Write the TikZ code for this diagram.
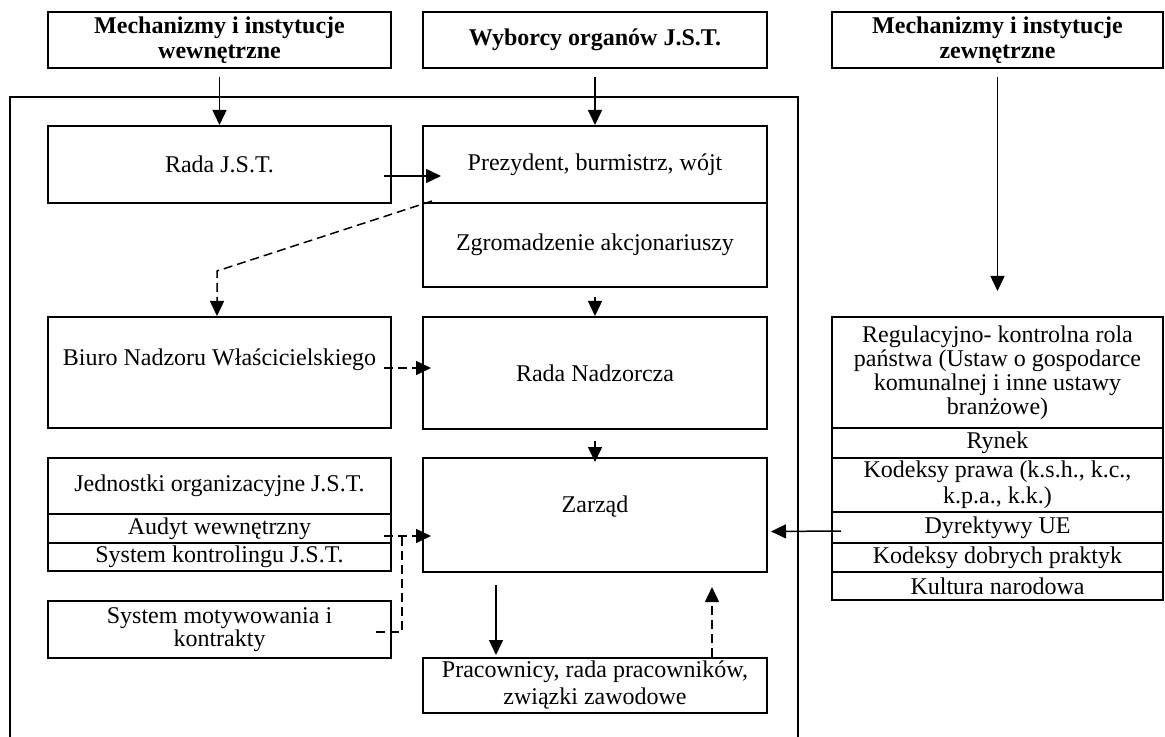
\documentclass[tikz,border=0pt]{standalone}
\usepackage{fontspec}
\setmainfont{Liberation Serif}
\usetikzlibrary{arrows.meta,calc}
\begin{document}
\begin{tikzpicture}[x=0.5pt,y=-0.5pt,
  box/.style={draw,line width=1pt,inner sep=0pt,align=center,font=\fontsize{12}{13.8}\selectfont},
  lcol/.style={box,minimum width=171.5pt},
  mcol/.style={box,minimum width=172pt},
  rcol/.style={box,minimum width=165.5pt},
  title/.style={font=\bfseries\fontsize{12}{12.5}\selectfont,minimum height=28pt},
  txt/.style={inner sep=0pt,align=center,font=\fontsize{12}{13.8}\selectfont},
  arr/.style={line width=0.75pt,-{Triangle[length=7.5pt,width=7pt]}},
  darr/.style={arr,dash pattern=on 4.5pt off 2.5pt},
  dline/.style={line width=0.75pt,dash pattern=on 4.5pt off 2.5pt},
  frame/.style={line width=1pt}]
\useasboundingbox (0,0) rectangle (1165,737);

% outer frame of the company (open at the bottom)
\draw[frame] (10,737) |- (798,97) -- (798,737);

% headings
\node[lcol, title] (tA) at (219.5,40) {Mechanizmy i instytucje\\wewnętrzne};
\node[mcol, title] (tB) at (595,40) {Wyborcy organów J.S.T.};
\node[rcol, title] (tC) at (997.5,40) {Mechanizmy i instytucje\\zewnętrzne};

% left column
\node[lcol, minimum height=38.5pt] (rada) at (219.5,164.5) {Rada J.S.T.};
\node[lcol, minimum height=55.5pt] (biuro) at (219.5,372.5) {};
\node[txt] (biuroT) at (219.5,360) {Biuro Nadzoru Właścicielskiego};
\node[lcol, minimum height=28pt] (jedn) at (219.5,486) {Jednostki organizacyjne J.S.T.};
\node[lcol, minimum height=14.5pt] (audyt) at (219.5,528.5) {Audyt wewnętrzny};
\node[lcol, minimum height=14pt] (kontr) at (219.5,557) {System kontrolingu J.S.T.};
\node[lcol, minimum height=28.5pt, font=\fontsize{12}{11.5}\selectfont] (motyw) at (219.5,629.5) {System motywowania i\\kontrakty};

% middle column
\node[mcol, minimum height=38.5pt] (prez) at (595,164.5) {Prezydent, burmistrz, wójt};
\node[mcol, minimum height=42pt] (zgrom) at (595,245) {Zgromadzenie akcjonariuszy};
\node[mcol, minimum height=56pt] (rn) at (595,373) {Rada Nadzorcza};
\node[mcol, minimum height=57pt] (zarzad) at (595,515) {};
\node[txt] (zarzadT) at (595,507) {Zarząd};
\node[mcol, minimum height=27.5pt, font=\fontsize{12}{13.5}\selectfont] (prac) at (595,685.5) {Pracownicy, rada pracowników,\\związki zawodowe};

% right column
\node[rcol, minimum height=55.5pt, font=\fontsize{12}{10.8}\selectfont] (reg) at (997.5,372.5) {Regulacyjno- kontrolna rola\\państwa (Ustaw o gospodarce\\komunalnej i inne ustawy\\branżowe)};
\node[rcol, minimum height=15pt] (rynek) at (997.5,443) {Rynek};
\node[rcol, minimum height=27pt, font=\fontsize{12}{13}\selectfont] (kodeksy) at (997.5,485) {Kodeksy prawa (k.s.h., k.c.,\\k.p.a., k.k.)};
\node[rcol, minimum height=15.5pt] (dyr) at (997.5,527.5) {Dyrektywy UE};
\node[rcol, minimum height=14.5pt] (dobre) at (997.5,557.5) {Kodeksy dobrych praktyk};
\node[rcol, minimum height=14pt] (kultura) at (997.5,586) {Kultura narodowa};

% connectors
\draw[arr, shorten <=4pt] (tA.south) -- (rada.north);
\draw[arr, shorten <=4pt] (tB.south) -- (prez.north);
\draw[arr, shorten <=4pt, shorten >=12.5pt] (tC.south) -- (reg.north);
\draw[arr] ($(rada.east)+(-8,11.5)$) -- ($(prez.west)+(19,11.5)$);
\draw[darr] ($(prez.south west)+(10,-3)$) -- ($(biuro.north)+(-2.5,-45)$) -- ($(biuro.north)+(-2.5,0)$);
\draw[arr, shorten <=4.5pt] (zgrom.south) -- (rn.north);
\draw[darr] ($(biuro.east)+(-8,-4.5)$) -- ($(rn.west)+(9,-5)$);
\draw[arr, shorten <=5.5pt, shorten >=-2.5pt] (rn.south) -- (zarzad.north);
\draw[darr] ($(audyt.east)+(-8,7.5)$) -- ($(zarzad.west)+(9,21)$);
\coordinate (jn) at ($(audyt.east)+(10,7.5)$);
\draw[dline] ($(motyw.east)+(-16,2.5)$) -| (jn);
\draw[arr] ($(zarzad.south)+(-99,12)$) -- ($(prac.north)+(-99,-2)$);
\draw[darr] ($(prac.north)+(117,0)$) -- ($(zarzad.south)+(117,14)$);
\draw[arr] ($(dyr.west)+(10,3.5)$) -- ($(zarzad.east)+(3,16.5)$);
\end{tikzpicture}
\end{document}
